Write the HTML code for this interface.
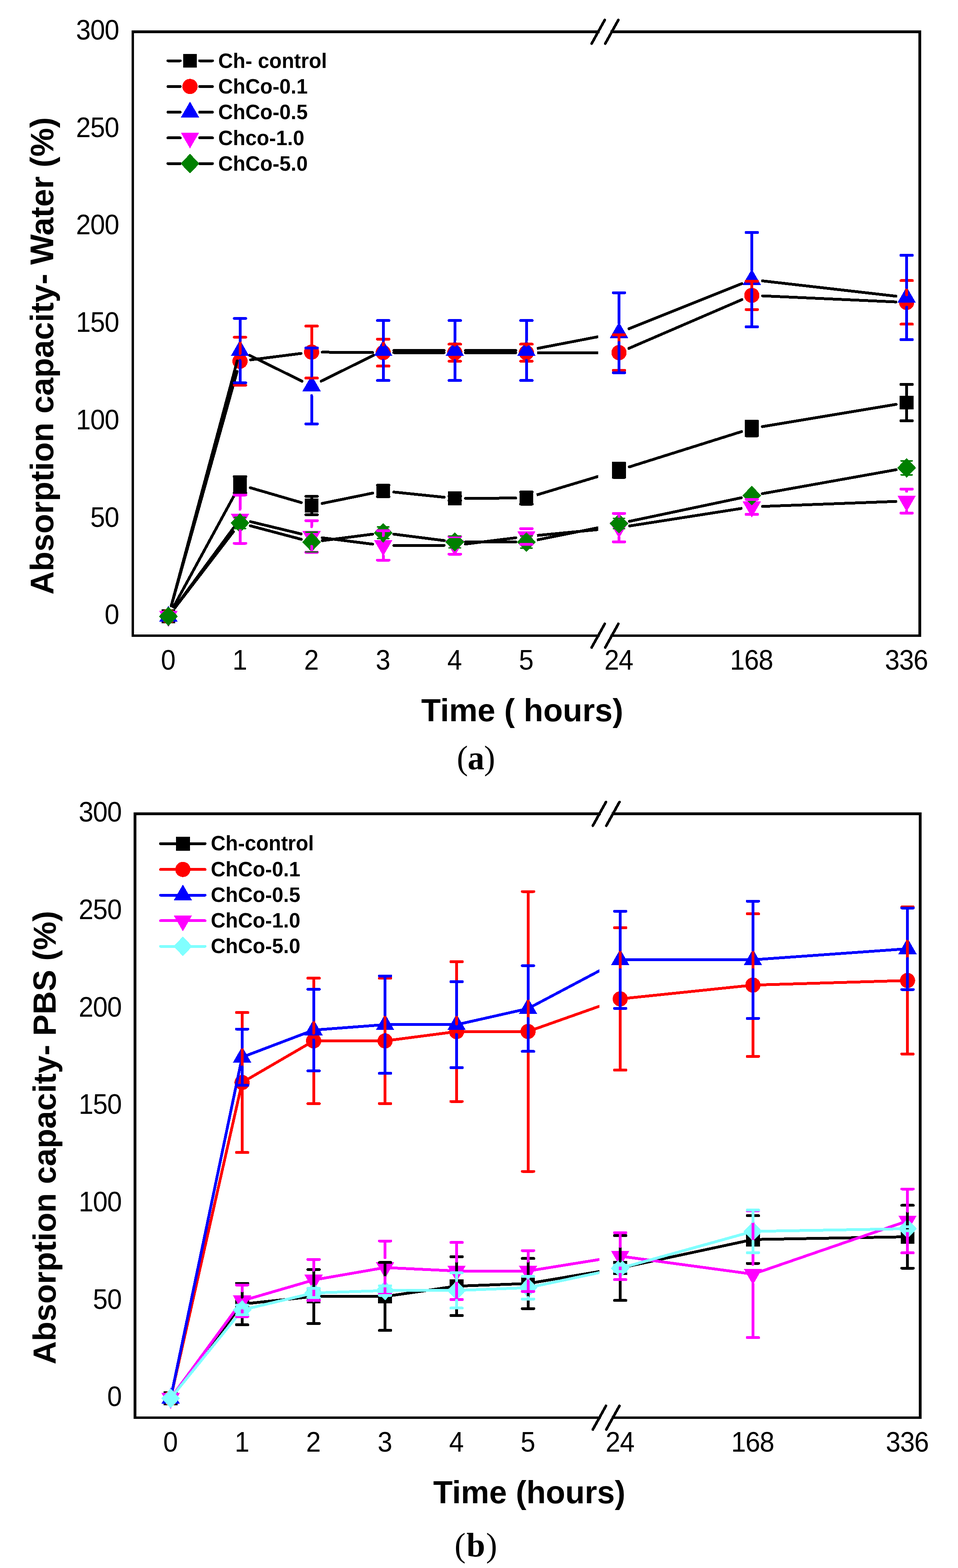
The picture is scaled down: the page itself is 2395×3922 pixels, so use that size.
<!DOCTYPE html>
<html lang="en">
<head>
<meta charset="utf-8">
<title>Absorption capacity in water and PBS over time</title>
<style>
html, body { margin: 0; padding: 0; background: #ffffff; }
body { width: 2395px; height: 3922px; overflow: hidden; }
svg { display: block; }
text { fill: #000000; }
</style>
</head>
<body>
<svg width="2395" height="3922" viewBox="0 0 2395 3922" shape-rendering="crispEdges">
<rect width="2395" height="3922" fill="#ffffff"/>
<path d="M332 79.5H1495.5 M1529.5 79.5H2299.5 M332 1590H1495.5 M1529.5 1590H2299.5 M332 79.5V1590 M2299.5 79.5V1590" stroke="#000" stroke-width="6.6" fill="none" stroke-linecap="square"/>
<path d="M1479.1 109.1L1511.9 49.9M1513.1 109.1L1545.9 49.9M1479.1 1619.6L1511.9 1560.4M1513.1 1619.6L1545.9 1560.4" stroke="#000" stroke-width="6.6" stroke-linecap="round" fill="none"/>
<clipPath id="paL"><rect x="0" y="0" width="1495.5" height="3922"/></clipPath>
<clipPath id="paR"><rect x="1529.5" y="0" width="865.5" height="3922"/></clipPath>
<path d="M433.81 1518.06L587.19 1236.04M625.73 1219.99L753.27 1257.11M805.26 1259.23L931.74 1233.37M984.66 1230.76L1110.34 1243.74M1163.8 1246.38L1289.2 1245.82M1573.06 1167.95L1853.94 1079.55M1905.94 1067.1L2240.16 1011.4" stroke="#000000" stroke-width="7" stroke-linecap="round" stroke-linejoin="round" fill="none"/>
<path d="M1341.66 1237.97L1521.84 1183.73" stroke="#000000" stroke-width="7" stroke-linecap="butt" fill="none" clip-path="url(#paL)"/>
<rect x="403.7" y="1524.3" width="34.6" height="34.6" fill="#000000"/>
<rect x="582.7" y="1195.2" width="34.6" height="34.6" fill="#000000"/>
<rect x="761.7" y="1247.3" width="34.6" height="34.6" fill="#000000"/>
<rect x="940.7" y="1210.7" width="34.6" height="34.6" fill="#000000"/>
<rect x="1119.7" y="1229.2" width="34.6" height="34.6" fill="#000000"/>
<rect x="1298.7" y="1228.4" width="34.6" height="34.6" fill="#000000"/>
<rect x="1530.2" y="1158.7" width="34.6" height="34.6" fill="#000000"/>
<rect x="1862.2" y="1054.2" width="34.6" height="34.6" fill="#000000"/>
<rect x="2249.3" y="989.7" width="34.6" height="34.6" fill="#000000"/>
<path d="M428.24 1515.8L592.76 929.3M626.59 900.11L752.41 884.09M805.8 880.89L931.2 881.81M984.8 882.03L1110.2 882.17M1163.8 882.2L1289.2 882.2M1572.11 871.39L1854.89 749.41M1906.27 740.02L2239.83 755.18" stroke="#000000" stroke-width="7" stroke-linecap="round" stroke-linejoin="round" fill="none"/>
<path d="M1342.8 882.18L1520.7 882.02" stroke="#000000" stroke-width="7" stroke-linecap="butt" fill="none" clip-path="url(#paL)"/>
<circle cx="421" cy="1541.6" r="19" fill="#ff0000"/>
<circle cx="600" cy="903.5" r="19" fill="#ff0000"/>
<circle cx="779" cy="880.7" r="19" fill="#ff0000"/>
<circle cx="958" cy="882" r="19" fill="#ff0000"/>
<circle cx="1137" cy="882.2" r="19" fill="#ff0000"/>
<circle cx="1316" cy="882.2" r="19" fill="#ff0000"/>
<circle cx="1547.5" cy="882" r="19" fill="#ff0000"/>
<circle cx="1879.5" cy="738.8" r="19" fill="#ff0000"/>
<circle cx="2266.6" cy="756.4" r="19" fill="#ff0000"/>
<path d="M427.97 1515.72L593.03 902.88M624.04 888.85L754.96 953.35M803.03 953.33L933.97 888.67M984.8 876.8L1110.2 876.8M1163.8 876.8L1289.2 876.8M1572.39 822.25L1854.61 709.45M1906.13 702.55L2239.97 740.85" stroke="#000000" stroke-width="7" stroke-linecap="round" stroke-linejoin="round" fill="none"/>
<path d="M1342.32 871.73L1521.18 837.27" stroke="#000000" stroke-width="7" stroke-linecap="butt" fill="none" clip-path="url(#paL)"/>
<polygon points="421,1515 444,1555 398,1555" fill="#0000ff"/>
<polygon points="600,850.4 623,890.4 577,890.4" fill="#0000ff"/>
<polygon points="779,938.6 802,978.6 756,978.6" fill="#0000ff"/>
<polygon points="958,850.2 981,890.2 935,890.2" fill="#0000ff"/>
<polygon points="1137,850.2 1160,890.2 1114,890.2" fill="#0000ff"/>
<polygon points="1316,850.2 1339,890.2 1293,890.2" fill="#0000ff"/>
<polygon points="1547.5,805.6 1570.5,845.6 1524.5,845.6" fill="#0000ff"/>
<polygon points="1879.5,672.9 1902.5,712.9 1856.5,712.9" fill="#0000ff"/>
<polygon points="2266.6,717.3 2289.6,757.3 2243.6,757.3" fill="#0000ff"/>
<path d="M436.89 1520.02L584.11 1320.08M626.05 1304.8L752.95 1335.5M805.59 1345.16L931.41 1361.04M984.8 1364.36L1110.2 1364.14M1163.6 1360.8L1289.4 1345.2M1573.98 1315.55L1853.02 1271.85M1906.28 1266.7L2239.82 1254.2" stroke="#000000" stroke-width="7" stroke-linecap="round" stroke-linejoin="round" fill="none"/>
<path d="M1342.68 1339.34L1520.82 1322.26" stroke="#000000" stroke-width="7" stroke-linecap="butt" fill="none" clip-path="url(#paL)"/>
<polygon points="421,1568.2 444,1528.2 398,1528.2" fill="#ff00ff"/>
<polygon points="600,1325.1 623,1285.1 577,1285.1" fill="#ff00ff"/>
<polygon points="779,1368.4 802,1328.4 756,1328.4" fill="#ff00ff"/>
<polygon points="958,1391 981,1351 935,1351" fill="#ff00ff"/>
<polygon points="1137,1390.7 1160,1350.7 1114,1350.7" fill="#ff00ff"/>
<polygon points="1316,1368.5 1339,1328.5 1293,1328.5" fill="#ff00ff"/>
<polygon points="1547.5,1346.3 1570.5,1306.3 1524.5,1306.3" fill="#ff00ff"/>
<polygon points="1879.5,1294.3 1902.5,1254.3 1856.5,1254.3" fill="#ff00ff"/>
<polygon points="2266.6,1279.8 2289.6,1239.8 2243.6,1239.8" fill="#ff00ff"/>
<path d="M437.31 1520.34L583.69 1329.56M625.9 1315.17L753.1 1348.93M805.58 1352.37L931.42 1336.13M984.59 1336.09L1110.41 1352.11M1163.8 1355.54L1289.2 1355.76M1573.72 1303.97L1853.28 1245.03M1905.88 1234.78L2240.22 1174.92" stroke="#000000" stroke-width="7" stroke-linecap="round" stroke-linejoin="round" fill="none"/>
<path d="M1342.28 1350.54L1521.22 1314.76" stroke="#000000" stroke-width="7" stroke-linecap="butt" fill="none" clip-path="url(#paL)"/>
<polygon points="421,1517.1 444.5,1541.6 421,1566.1 397.5,1541.6" fill="#008000"/>
<polygon points="600,1283.8 623.5,1308.3 600,1332.8 576.5,1308.3" fill="#008000"/>
<polygon points="779,1331.3 802.5,1355.8 779,1380.3 755.5,1355.8" fill="#008000"/>
<polygon points="958,1308.2 981.5,1332.7 958,1357.2 934.5,1332.7" fill="#008000"/>
<polygon points="1137,1331 1160.5,1355.5 1137,1380 1113.5,1355.5" fill="#008000"/>
<polygon points="1316,1331.3 1339.5,1355.8 1316,1380.3 1292.5,1355.8" fill="#008000"/>
<polygon points="1547.5,1285 1571,1309.5 1547.5,1334 1524,1309.5" fill="#008000"/>
<polygon points="1879.5,1215 1903,1239.5 1879.5,1264 1856,1239.5" fill="#008000"/>
<polygon points="2266.6,1145.7 2290.1,1170.2 2266.6,1194.7 2243.1,1170.2" fill="#008000"/>

<path d="M600 1192V1195.2M600 1229.8V1233M585.7 1192H614.3M585.7 1233H614.3" stroke="#000000" stroke-width="7" stroke-linecap="round" fill="none"/>
<path d="M779 1241.6V1247.3M779 1281.9V1287.6M764.7 1241.6H793.3M764.7 1287.6H793.3" stroke="#000000" stroke-width="7" stroke-linecap="round" fill="none"/>
<path d="M943.7 1213.4H972.3M943.7 1242.6H972.3" stroke="#000000" stroke-width="7" stroke-linecap="round" fill="none"/>
<path d="M1122.7 1240.9H1151.3M1122.7 1252.1H1151.3" stroke="#000000" stroke-width="7" stroke-linecap="round" fill="none"/>
<path d="M1301.7 1230.4H1330.3M1301.7 1261H1330.3" stroke="#000000" stroke-width="7" stroke-linecap="round" fill="none"/>
<path d="M1547.5 1158V1158.7M1547.5 1193.3V1194M1533.2 1158H1561.8M1533.2 1194H1561.8" stroke="#000000" stroke-width="7" stroke-linecap="round" fill="none"/>
<path d="M1879.5 1053V1054.2M1879.5 1088.8V1090M1865.2 1053H1893.8M1865.2 1090H1893.8" stroke="#000000" stroke-width="7" stroke-linecap="round" fill="none"/>
<path d="M2266.6 961.6V989.7M2266.6 1024.3V1052.4M2252.3 961.6H2280.9M2252.3 1052.4H2280.9" stroke="#000000" stroke-width="7" stroke-linecap="round" fill="none"/>

<path d="M600 843.5V884.5M600 922.5V963.5M585.7 843.5H614.3M585.7 963.5H614.3" stroke="#ff0000" stroke-width="7" stroke-linecap="round" fill="none"/>
<path d="M779 815.7V861.7M779 899.7V945.7M764.7 815.7H793.3M764.7 945.7H793.3" stroke="#ff0000" stroke-width="7" stroke-linecap="round" fill="none"/>
<path d="M958 848.3V863M958 901V915.7M943.7 848.3H972.3M943.7 915.7H972.3" stroke="#ff0000" stroke-width="7" stroke-linecap="round" fill="none"/>
<path d="M1137 860.9V863.2M1137 901.2V903.5M1122.7 860.9H1151.3M1122.7 903.5H1151.3" stroke="#ff0000" stroke-width="7" stroke-linecap="round" fill="none"/>
<path d="M1316 860.9V863.2M1316 901.2V903.5M1301.7 860.9H1330.3M1301.7 903.5H1330.3" stroke="#ff0000" stroke-width="7" stroke-linecap="round" fill="none"/>
<path d="M1547.5 837.7V863M1547.5 901V926.3M1533.2 837.7H1561.8M1533.2 926.3H1561.8" stroke="#ff0000" stroke-width="7" stroke-linecap="round" fill="none"/>
<path d="M1879.5 703.4V719.8M1879.5 757.8V774.2M1865.2 703.4H1893.8M1865.2 774.2H1893.8" stroke="#ff0000" stroke-width="7" stroke-linecap="round" fill="none"/>
<path d="M2266.6 701.9V737.4M2266.6 775.4V810.9M2252.3 701.9H2280.9M2252.3 810.9H2280.9" stroke="#ff0000" stroke-width="7" stroke-linecap="round" fill="none"/>

<path d="M600 796.5V852.5M600 901.5V957.5M585.7 796.5H614.3M585.7 957.5H614.3" stroke="#0000ff" stroke-width="7" stroke-linecap="round" fill="none"/>
<path d="M779 870.2V940.7M779 989.7V1060.2M764.7 870.2H793.3M764.7 1060.2H793.3" stroke="#0000ff" stroke-width="7" stroke-linecap="round" fill="none"/>
<path d="M958 801.8V852.3M958 901.3V951.8M943.7 801.8H972.3M943.7 951.8H972.3" stroke="#0000ff" stroke-width="7" stroke-linecap="round" fill="none"/>
<path d="M1137 801.8V852.3M1137 901.3V951.8M1122.7 801.8H1151.3M1122.7 951.8H1151.3" stroke="#0000ff" stroke-width="7" stroke-linecap="round" fill="none"/>
<path d="M1316 801.8V852.3M1316 901.3V951.8M1301.7 801.8H1330.3M1301.7 951.8H1330.3" stroke="#0000ff" stroke-width="7" stroke-linecap="round" fill="none"/>
<path d="M1547.5 732.2V807.7M1547.5 856.7V932.2M1533.2 732.2H1561.8M1533.2 932.2H1561.8" stroke="#0000ff" stroke-width="7" stroke-linecap="round" fill="none"/>
<path d="M1879.5 581.5V675M1879.5 724V817.5M1865.2 581.5H1893.8M1865.2 817.5H1893.8" stroke="#0000ff" stroke-width="7" stroke-linecap="round" fill="none"/>
<path d="M2266.6 638.4V719.4M2266.6 768.4V849.4M2252.3 638.4H2280.9M2252.3 849.4H2280.9" stroke="#0000ff" stroke-width="7" stroke-linecap="round" fill="none"/>

<path d="M600 1238V1274M600 1323V1359M585.7 1238H614.3M585.7 1359H614.3" stroke="#ff00ff" stroke-width="7" stroke-linecap="round" fill="none"/>
<path d="M779 1302.3V1317.3M779 1366.3V1381.3M764.7 1302.3H793.3M764.7 1381.3H793.3" stroke="#ff00ff" stroke-width="7" stroke-linecap="round" fill="none"/>
<path d="M958 1327.7V1339.9M958 1388.9V1401.1M943.7 1327.7H972.3M943.7 1401.1H972.3" stroke="#ff00ff" stroke-width="7" stroke-linecap="round" fill="none"/>
<path d="M1122.7 1342.1H1151.3M1122.7 1386.1H1151.3" stroke="#ff00ff" stroke-width="7" stroke-linecap="round" fill="none"/>
<path d="M1301.7 1322.2H1330.3M1301.7 1361.6H1330.3" stroke="#ff00ff" stroke-width="7" stroke-linecap="round" fill="none"/>
<path d="M1547.5 1284.1V1295.2M1547.5 1344.2V1355.3M1533.2 1284.1H1561.8M1533.2 1355.3H1561.8" stroke="#ff00ff" stroke-width="7" stroke-linecap="round" fill="none"/>
<path d="M1865.2 1249H1893.8M1865.2 1286.4H1893.8" stroke="#ff00ff" stroke-width="7" stroke-linecap="round" fill="none"/>
<path d="M2266.6 1223.2V1228.7M2266.6 1277.7V1283.2M2252.3 1223.2H2280.9M2252.3 1283.2H2280.9" stroke="#ff00ff" stroke-width="7" stroke-linecap="round" fill="none"/>

<path d="M586 1294.3H614M586 1322.3H614" stroke="#008000" stroke-width="3.8" stroke-linecap="round" fill="none"/>
<path d="M779 1331.1V1331.3M779 1380.3V1380.5M765 1331.1H793M765 1380.5H793" stroke="#008000" stroke-width="3.8" stroke-linecap="round" fill="none"/>
<path d="M944 1318.2H972M944 1347.2H972" stroke="#008000" stroke-width="3.8" stroke-linecap="round" fill="none"/>
<path d="M1123 1340.5H1151M1123 1370.5H1151" stroke="#008000" stroke-width="3.8" stroke-linecap="round" fill="none"/>
<path d="M1302 1340.5H1330M1302 1371.1H1330" stroke="#008000" stroke-width="3.8" stroke-linecap="round" fill="none"/>
<path d="M1533.5 1296.5H1561.5M1533.5 1322.5H1561.5" stroke="#008000" stroke-width="3.8" stroke-linecap="round" fill="none"/>
<path d="M1865.5 1236.5H1893.5M1865.5 1242.5H1893.5" stroke="#008000" stroke-width="3.8" stroke-linecap="round" fill="none"/>
<path d="M2252.6 1152.8H2280.6M2252.6 1187.6H2280.6" stroke="#008000" stroke-width="3.8" stroke-linecap="round" fill="none"/>
<path d="M419.9 152H450.3 M499.2 152H531.1" stroke="#000000" stroke-width="7" stroke-linecap="round" fill="none"/>
<rect x="457.7" y="134.7" width="34.6" height="34.6" fill="#000000"/>
<text x="545.5" y="169.8" font-family="'Liberation Sans', Arial, Helvetica, sans-serif" font-weight="bold" font-size="51">Ch- control</text>
<path d="M419.9 216.3H450.3 M499.2 216.3H531.1" stroke="#000000" stroke-width="7" stroke-linecap="round" fill="none"/>
<circle cx="475" cy="216.3" r="19" fill="#ff0000"/>
<text x="545.5" y="234.1" font-family="'Liberation Sans', Arial, Helvetica, sans-serif" font-weight="bold" font-size="51">ChCo-0.1</text>
<path d="M419.9 280.6H450.3 M499.2 280.6H531.1" stroke="#000000" stroke-width="7" stroke-linecap="round" fill="none"/>
<polygon points="475,254 498,294 452,294" fill="#0000ff"/>
<text x="545.5" y="298.4" font-family="'Liberation Sans', Arial, Helvetica, sans-serif" font-weight="bold" font-size="51">ChCo-0.5</text>
<path d="M419.9 344.9H450.3 M499.2 344.9H531.1" stroke="#000000" stroke-width="7" stroke-linecap="round" fill="none"/>
<polygon points="475,371.5 498,331.5 452,331.5" fill="#ff00ff"/>
<text x="545.5" y="362.7" font-family="'Liberation Sans', Arial, Helvetica, sans-serif" font-weight="bold" font-size="51">Chco-1.0</text>
<path d="M419.9 409.2H450.3 M499.2 409.2H531.1" stroke="#000000" stroke-width="7" stroke-linecap="round" fill="none"/>
<polygon points="475,384.7 498.5,409.2 475,433.7 451.5,409.2" fill="#008000"/>
<text x="545.5" y="427" font-family="'Liberation Sans', Arial, Helvetica, sans-serif" font-weight="bold" font-size="51">ChCo-5.0</text>
<text transform="translate(297.2 1561.2) scale(0.94 1)" text-anchor="end" font-family="'Liberation Sans', Arial, Helvetica, sans-serif" font-size="70.5" letter-spacing="-1.2">0</text>
<text transform="translate(297.2 1317.5) scale(0.94 1)" text-anchor="end" font-family="'Liberation Sans', Arial, Helvetica, sans-serif" font-size="70.5" letter-spacing="-1.2">50</text>
<text transform="translate(297.2 1073.8) scale(0.94 1)" text-anchor="end" font-family="'Liberation Sans', Arial, Helvetica, sans-serif" font-size="70.5" letter-spacing="-1.2">100</text>
<text transform="translate(297.2 830.1) scale(0.94 1)" text-anchor="end" font-family="'Liberation Sans', Arial, Helvetica, sans-serif" font-size="70.5" letter-spacing="-1.2">150</text>
<text transform="translate(297.2 586.4) scale(0.94 1)" text-anchor="end" font-family="'Liberation Sans', Arial, Helvetica, sans-serif" font-size="70.5" letter-spacing="-1.2">200</text>
<text transform="translate(297.2 342.7) scale(0.94 1)" text-anchor="end" font-family="'Liberation Sans', Arial, Helvetica, sans-serif" font-size="70.5" letter-spacing="-1.2">250</text>
<text transform="translate(297.2 99) scale(0.94 1)" text-anchor="end" font-family="'Liberation Sans', Arial, Helvetica, sans-serif" font-size="70.5" letter-spacing="-1.2">300</text>
<text transform="translate(420.2 1674.5) scale(0.94 1)" text-anchor="middle" font-family="'Liberation Sans', Arial, Helvetica, sans-serif" font-size="70.5" letter-spacing="-1.2">0</text>
<text transform="translate(599.2 1674.5) scale(0.94 1)" text-anchor="middle" font-family="'Liberation Sans', Arial, Helvetica, sans-serif" font-size="70.5" letter-spacing="-1.2">1</text>
<text transform="translate(778.2 1674.5) scale(0.94 1)" text-anchor="middle" font-family="'Liberation Sans', Arial, Helvetica, sans-serif" font-size="70.5" letter-spacing="-1.2">2</text>
<text transform="translate(957.2 1674.5) scale(0.94 1)" text-anchor="middle" font-family="'Liberation Sans', Arial, Helvetica, sans-serif" font-size="70.5" letter-spacing="-1.2">3</text>
<text transform="translate(1136.2 1674.5) scale(0.94 1)" text-anchor="middle" font-family="'Liberation Sans', Arial, Helvetica, sans-serif" font-size="70.5" letter-spacing="-1.2">4</text>
<text transform="translate(1315.2 1674.5) scale(0.94 1)" text-anchor="middle" font-family="'Liberation Sans', Arial, Helvetica, sans-serif" font-size="70.5" letter-spacing="-1.2">5</text>
<text transform="translate(1546.7 1674.5) scale(0.94 1)" text-anchor="middle" font-family="'Liberation Sans', Arial, Helvetica, sans-serif" font-size="70.5" letter-spacing="-1.2">24</text>
<text transform="translate(1878.7 1674.5) scale(0.94 1)" text-anchor="middle" font-family="'Liberation Sans', Arial, Helvetica, sans-serif" font-size="70.5" letter-spacing="-1.2">168</text>
<text transform="translate(2265.8 1674.5) scale(0.94 1)" text-anchor="middle" font-family="'Liberation Sans', Arial, Helvetica, sans-serif" font-size="70.5" letter-spacing="-1.2">336</text>
<text transform="translate(133.1 1487.2) rotate(-90)" font-family="'Liberation Sans', Arial, Helvetica, sans-serif" font-weight="bold" font-size="80.7">Absorption capacity- Water (%)</text>
<text x="1053" y="1803.8" font-family="'Liberation Sans', Arial, Helvetica, sans-serif" font-weight="bold" font-size="80">Time ( hours)</text>
<text x="1142" y="1923.9" font-family="'Liberation Serif', 'Times New Roman', serif" font-size="84" letter-spacing="-1">(<tspan font-weight="bold">a</tspan>)</text>
<path d="M337.5 2035.7H1498.5 M1532.2 2035.7H2300.7 M337.5 3546H1498.5 M1532.2 3546H2300.7 M337.5 2035.7V3546 M2300.7 2035.7V3546" stroke="#000" stroke-width="6.6" fill="none" stroke-linecap="square"/>
<path d="M1482.1 2065.3L1514.9 2006.1M1515.8 2065.3L1548.6 2006.1M1482.1 3575.6L1514.9 3516.4M1515.8 3575.6L1548.6 3516.4" stroke="#000" stroke-width="6.6" stroke-linecap="round" fill="none"/>
<clipPath id="pbL"><rect x="0" y="0" width="1498.5" height="3922"/></clipPath>
<clipPath id="pbR"><rect x="1532.2" y="0" width="862.8" height="3922"/></clipPath>
<path d="M426.6 3497.6L605.3 3261.9M605.3 3261.9L784 3242.9M784 3242.9L962.7 3242.8M962.7 3242.8L1141.4 3217M1141.4 3217L1320.1 3210.5M1550.5 3171.6L1882.3 3100.4M1882.3 3100.4L2268.8 3093.5" stroke="#000000" stroke-width="7" stroke-linecap="round" stroke-linejoin="round" fill="none"/>
<path d="M1320.1 3210.5L1550.5 3171.6" stroke="#000000" stroke-width="7" stroke-linecap="butt" fill="none" clip-path="url(#pbL)"/>
<rect x="409.3" y="3480.3" width="34.6" height="34.6" fill="#000000"/>
<rect x="588" y="3244.6" width="34.6" height="34.6" fill="#000000"/>
<rect x="766.7" y="3225.6" width="34.6" height="34.6" fill="#000000"/>
<rect x="945.4" y="3225.5" width="34.6" height="34.6" fill="#000000"/>
<rect x="1124.1" y="3199.7" width="34.6" height="34.6" fill="#000000"/>
<rect x="1302.8" y="3193.2" width="34.6" height="34.6" fill="#000000"/>
<rect x="1533.2" y="3154.3" width="34.6" height="34.6" fill="#000000"/>
<rect x="1865" y="3083.1" width="34.6" height="34.6" fill="#000000"/>
<rect x="2251.5" y="3076.2" width="34.6" height="34.6" fill="#000000"/>
<path d="M426.6 3497.6L605.3 2707.6M605.3 2707.6L784 2603.6M784 2603.6L962.7 2603.6M962.7 2603.6L1141.4 2580.3M1141.4 2580.3L1320.1 2580M1550.5 2498.5L1882.3 2464M1882.3 2464L2268.8 2452.5" stroke="#ff0000" stroke-width="7" stroke-linecap="round" stroke-linejoin="round" fill="none"/>
<path d="M1320.1 2580L1550.5 2498.5" stroke="#ff0000" stroke-width="7" stroke-linecap="butt" fill="none" clip-path="url(#pbL)"/>
<circle cx="426.6" cy="3497.6" r="19" fill="#ff0000"/>
<circle cx="605.3" cy="2707.6" r="19" fill="#ff0000"/>
<circle cx="784" cy="2603.6" r="19" fill="#ff0000"/>
<circle cx="962.7" cy="2603.6" r="19" fill="#ff0000"/>
<circle cx="1141.4" cy="2580.3" r="19" fill="#ff0000"/>
<circle cx="1320.1" cy="2580" r="19" fill="#ff0000"/>
<circle cx="1550.5" cy="2498.5" r="19" fill="#ff0000"/>
<circle cx="1882.3" cy="2464" r="19" fill="#ff0000"/>
<circle cx="2268.8" cy="2452.5" r="19" fill="#ff0000"/>
<path d="M426.6 3497.6L605.3 2644.3M605.3 2644.3L784 2576.5M784 2576.5L962.7 2562.9M962.7 2562.9L1141.4 2563M1141.4 2563L1320.1 2522.7M1550.5 2400.7L1882.3 2400.7M1882.3 2400.7L2268.8 2373.1" stroke="#0000ff" stroke-width="7" stroke-linecap="round" stroke-linejoin="round" fill="none"/>
<path d="M1320.1 2522.7L1550.5 2400.7" stroke="#0000ff" stroke-width="7" stroke-linecap="butt" fill="none" clip-path="url(#pbL)"/>
<polygon points="426.6,3471 449.6,3511 403.6,3511" fill="#0000ff"/>
<polygon points="605.3,2617.7 628.3,2657.7 582.3,2657.7" fill="#0000ff"/>
<polygon points="784,2549.9 807,2589.9 761,2589.9" fill="#0000ff"/>
<polygon points="962.7,2536.3 985.7,2576.3 939.7,2576.3" fill="#0000ff"/>
<polygon points="1141.4,2536.4 1164.4,2576.4 1118.4,2576.4" fill="#0000ff"/>
<polygon points="1320.1,2496.1 1343.1,2536.1 1297.1,2536.1" fill="#0000ff"/>
<polygon points="1550.5,2374.1 1573.5,2414.1 1527.5,2414.1" fill="#0000ff"/>
<polygon points="1882.3,2374.1 1905.3,2414.1 1859.3,2414.1" fill="#0000ff"/>
<polygon points="2268.8,2346.5 2291.8,2386.5 2245.8,2386.5" fill="#0000ff"/>
<path d="M426.6 3497.6L605.3 3253.6M605.3 3253.6L784 3201.6M784 3201.6L962.7 3170.5M962.7 3170.5L1141.4 3179.1M1141.4 3179.1L1320.1 3179.2M1550.5 3142L1882.3 3187M1882.3 3187L2268.8 3053.9" stroke="#ff00ff" stroke-width="7" stroke-linecap="round" stroke-linejoin="round" fill="none"/>
<path d="M1320.1 3179.2L1550.5 3142" stroke="#ff00ff" stroke-width="7" stroke-linecap="butt" fill="none" clip-path="url(#pbL)"/>
<polygon points="426.6,3524.2 449.6,3484.2 403.6,3484.2" fill="#ff00ff"/>
<polygon points="605.3,3280.2 628.3,3240.2 582.3,3240.2" fill="#ff00ff"/>
<polygon points="784,3228.2 807,3188.2 761,3188.2" fill="#ff00ff"/>
<polygon points="962.7,3197.1 985.7,3157.1 939.7,3157.1" fill="#ff00ff"/>
<polygon points="1141.4,3205.7 1164.4,3165.7 1118.4,3165.7" fill="#ff00ff"/>
<polygon points="1320.1,3205.8 1343.1,3165.8 1297.1,3165.8" fill="#ff00ff"/>
<polygon points="1550.5,3168.6 1573.5,3128.6 1527.5,3128.6" fill="#ff00ff"/>
<polygon points="1882.3,3213.6 1905.3,3173.6 1859.3,3173.6" fill="#ff00ff"/>
<polygon points="2268.8,3080.5 2291.8,3040.5 2245.8,3040.5" fill="#ff00ff"/>
<path d="M426.6 3497.6L605.3 3276.6M605.3 3276.6L784 3234M784 3234L962.7 3228M962.7 3228L1141.4 3227.9M1141.4 3227.9L1320.1 3220.9M1550.5 3172.2L1882.3 3080M1882.3 3080L2268.8 3073.4" stroke="#80ffff" stroke-width="7" stroke-linecap="round" stroke-linejoin="round" fill="none"/>
<path d="M1320.1 3220.9L1550.5 3172.2" stroke="#80ffff" stroke-width="7" stroke-linecap="butt" fill="none" clip-path="url(#pbL)"/>
<polygon points="426.6,3473.1 450.1,3497.6 426.6,3522.1 403.1,3497.6" fill="#80ffff"/>
<polygon points="605.3,3252.1 628.8,3276.6 605.3,3301.1 581.8,3276.6" fill="#80ffff"/>
<polygon points="784,3209.5 807.5,3234 784,3258.5 760.5,3234" fill="#80ffff"/>
<polygon points="962.7,3203.5 986.2,3228 962.7,3252.5 939.2,3228" fill="#80ffff"/>
<polygon points="1141.4,3203.4 1164.9,3227.9 1141.4,3252.4 1117.9,3227.9" fill="#80ffff"/>
<polygon points="1320.1,3196.4 1343.6,3220.9 1320.1,3245.4 1296.6,3220.9" fill="#80ffff"/>
<polygon points="1550.5,3147.7 1574,3172.2 1550.5,3196.7 1527,3172.2" fill="#80ffff"/>
<polygon points="1882.3,3055.5 1905.8,3080 1882.3,3104.5 1858.8,3080" fill="#80ffff"/>
<polygon points="2268.8,3048.9 2292.3,3073.4 2268.8,3097.9 2245.3,3073.4" fill="#80ffff"/>

<path d="M605.3 3210.1V3244.6M605.3 3279.2V3313.7M591 3210.1H619.6M591 3313.7H619.6" stroke="#000000" stroke-width="7" stroke-linecap="round" fill="none"/>
<path d="M784 3175.4V3225.6M784 3260.2V3310.4M769.7 3175.4H798.3M769.7 3310.4H798.3" stroke="#000000" stroke-width="7" stroke-linecap="round" fill="none"/>
<path d="M962.7 3157.9V3225.5M962.7 3260.1V3327.7M948.4 3157.9H977M948.4 3327.7H977" stroke="#000000" stroke-width="7" stroke-linecap="round" fill="none"/>
<path d="M1141.4 3143.5V3199.7M1141.4 3234.3V3290.5M1127.1 3143.5H1155.7M1127.1 3290.5H1155.7" stroke="#000000" stroke-width="7" stroke-linecap="round" fill="none"/>
<path d="M1320.1 3147.8V3193.2M1320.1 3227.8V3273.2M1305.8 3147.8H1334.4M1305.8 3273.2H1334.4" stroke="#000000" stroke-width="7" stroke-linecap="round" fill="none"/>
<path d="M1550.5 3090.4V3154.3M1550.5 3188.9V3252.8M1536.2 3090.4H1564.8M1536.2 3252.8H1564.8" stroke="#000000" stroke-width="7" stroke-linecap="round" fill="none"/>
<path d="M1882.3 3040.7V3083.1M1882.3 3117.7V3160.1M1868 3040.7H1896.6M1868 3160.1H1896.6" stroke="#000000" stroke-width="7" stroke-linecap="round" fill="none"/>
<path d="M2268.8 3014.9V3076.2M2268.8 3110.8V3172.1M2254.5 3014.9H2283.1M2254.5 3172.1H2283.1" stroke="#000000" stroke-width="7" stroke-linecap="round" fill="none"/>

<path d="M605.3 2532.6V2688.6M605.3 2726.6V2882.6M591 2532.6H619.6M591 2882.6H619.6" stroke="#ff0000" stroke-width="7" stroke-linecap="round" fill="none"/>
<path d="M784 2446.8V2584.6M784 2622.6V2760.4M769.7 2446.8H798.3M769.7 2760.4H798.3" stroke="#ff0000" stroke-width="7" stroke-linecap="round" fill="none"/>
<path d="M962.7 2446.8V2584.6M962.7 2622.6V2760.4M948.4 2446.8H977M948.4 2760.4H977" stroke="#ff0000" stroke-width="7" stroke-linecap="round" fill="none"/>
<path d="M1141.4 2405.6V2561.3M1141.4 2599.3V2755M1127.1 2405.6H1155.7M1127.1 2755H1155.7" stroke="#ff0000" stroke-width="7" stroke-linecap="round" fill="none"/>
<path d="M1320.1 2230V2561M1320.1 2599V2930M1305.8 2230H1334.4M1305.8 2930H1334.4" stroke="#ff0000" stroke-width="7" stroke-linecap="round" fill="none"/>
<path d="M1550.5 2320.5V2479.5M1550.5 2517.5V2676.5M1536.2 2320.5H1564.8M1536.2 2676.5H1564.8" stroke="#ff0000" stroke-width="7" stroke-linecap="round" fill="none"/>
<path d="M1882.3 2285.7V2445M1882.3 2483V2642.3M1868 2285.7H1896.6M1868 2642.3H1896.6" stroke="#ff0000" stroke-width="7" stroke-linecap="round" fill="none"/>
<path d="M2268.8 2268.7V2433.5M2268.8 2471.5V2636.3M2254.5 2268.7H2283.1M2254.5 2636.3H2283.1" stroke="#ff0000" stroke-width="7" stroke-linecap="round" fill="none"/>

<path d="M605.3 2574V2619.8M605.3 2668.8V2714.6M591 2574H619.6M591 2714.6H619.6" stroke="#0000ff" stroke-width="7" stroke-linecap="round" fill="none"/>
<path d="M784 2474.5V2552M784 2601V2678.5M769.7 2474.5H798.3M769.7 2678.5H798.3" stroke="#0000ff" stroke-width="7" stroke-linecap="round" fill="none"/>
<path d="M962.7 2441.2V2538.4M962.7 2587.4V2684.6M948.4 2441.2H977M948.4 2684.6H977" stroke="#0000ff" stroke-width="7" stroke-linecap="round" fill="none"/>
<path d="M1141.4 2455.5V2538.5M1141.4 2587.5V2670.5M1127.1 2455.5H1155.7M1127.1 2670.5H1155.7" stroke="#0000ff" stroke-width="7" stroke-linecap="round" fill="none"/>
<path d="M1320.1 2415.5V2498.2M1320.1 2547.2V2629.9M1305.8 2415.5H1334.4M1305.8 2629.9H1334.4" stroke="#0000ff" stroke-width="7" stroke-linecap="round" fill="none"/>
<path d="M1550.5 2279.2V2376.2M1550.5 2425.2V2522.2M1536.2 2279.2H1564.8M1536.2 2522.2H1564.8" stroke="#0000ff" stroke-width="7" stroke-linecap="round" fill="none"/>
<path d="M1882.3 2254.1V2376.2M1882.3 2425.2V2547.3M1868 2254.1H1896.6M1868 2547.3H1896.6" stroke="#0000ff" stroke-width="7" stroke-linecap="round" fill="none"/>
<path d="M2268.8 2271.1V2348.6M2268.8 2397.6V2475.1M2254.5 2271.1H2283.1M2254.5 2475.1H2283.1" stroke="#0000ff" stroke-width="7" stroke-linecap="round" fill="none"/>

<path d="M605.3 3214.1V3229.1M605.3 3278.1V3293.1M591 3214.1H619.6M591 3293.1H619.6" stroke="#ff00ff" stroke-width="7" stroke-linecap="round" fill="none"/>
<path d="M784 3150.3V3177.1M784 3226.1V3252.9M769.7 3150.3H798.3M769.7 3252.9H798.3" stroke="#ff00ff" stroke-width="7" stroke-linecap="round" fill="none"/>
<path d="M962.7 3104V3146M962.7 3195V3237M948.4 3104H977M948.4 3237H977" stroke="#ff00ff" stroke-width="7" stroke-linecap="round" fill="none"/>
<path d="M1141.4 3107.8V3154.6M1141.4 3203.6V3250.4M1127.1 3107.8H1155.7M1127.1 3250.4H1155.7" stroke="#ff00ff" stroke-width="7" stroke-linecap="round" fill="none"/>
<path d="M1320.1 3128.1V3154.7M1320.1 3203.7V3230.3M1305.8 3128.1H1334.4M1305.8 3230.3H1334.4" stroke="#ff00ff" stroke-width="7" stroke-linecap="round" fill="none"/>
<path d="M1550.5 3083.2V3117.5M1550.5 3166.5V3200.8M1536.2 3083.2H1564.8M1536.2 3200.8H1564.8" stroke="#ff00ff" stroke-width="7" stroke-linecap="round" fill="none"/>
<path d="M1882.3 3028.3V3162.5M1882.3 3211.5V3345.7M1868 3028.3H1896.6M1868 3345.7H1896.6" stroke="#ff00ff" stroke-width="7" stroke-linecap="round" fill="none"/>
<path d="M2268.8 2974V3029.4M2268.8 3078.4V3133.8M2254.5 2974H2283.1M2254.5 3133.8H2283.1" stroke="#ff00ff" stroke-width="7" stroke-linecap="round" fill="none"/>

<path d="M591 3264.6H619.6M591 3288.6H619.6" stroke="#80ffff" stroke-width="7" stroke-linecap="round" fill="none"/>
<path d="M769.7 3222.5H798.3M769.7 3245.5H798.3" stroke="#80ffff" stroke-width="7" stroke-linecap="round" fill="none"/>
<path d="M948.4 3216H977M948.4 3240H977" stroke="#80ffff" stroke-width="7" stroke-linecap="round" fill="none"/>
<path d="M1141.4 3183.9V3203.4M1141.4 3252.4V3271.9M1127.1 3183.9H1155.7M1127.1 3271.9H1155.7" stroke="#80ffff" stroke-width="7" stroke-linecap="round" fill="none"/>
<path d="M1320.1 3192.6V3196.4M1320.1 3245.4V3249.2M1305.8 3192.6H1334.4M1305.8 3249.2H1334.4" stroke="#80ffff" stroke-width="7" stroke-linecap="round" fill="none"/>
<path d="M1536.2 3164.2H1564.8M1536.2 3180.2H1564.8" stroke="#80ffff" stroke-width="7" stroke-linecap="round" fill="none"/>
<path d="M1882.3 3026.6V3055.5M1882.3 3104.5V3133.4M1868 3026.6H1896.6M1868 3133.4H1896.6" stroke="#80ffff" stroke-width="7" stroke-linecap="round" fill="none"/>
<path d="M2254.5 3068.4H2283.1M2254.5 3078.4H2283.1" stroke="#80ffff" stroke-width="7" stroke-linecap="round" fill="none"/>
<path d="M401.4 2110.4H512.5" stroke="#000000" stroke-width="7" stroke-linecap="round" fill="none"/>
<rect x="439.9" y="2093.1" width="34.6" height="34.6" fill="#000000"/>
<text x="527" y="2127.4" font-family="'Liberation Sans', Arial, Helvetica, sans-serif" font-weight="bold" font-size="51">Ch-control</text>
<path d="M401.4 2174.7H512.5" stroke="#ff0000" stroke-width="7" stroke-linecap="round" fill="none"/>
<circle cx="457.2" cy="2174.7" r="19" fill="#ff0000"/>
<text x="527" y="2191.7" font-family="'Liberation Sans', Arial, Helvetica, sans-serif" font-weight="bold" font-size="51">ChCo-0.1</text>
<path d="M401.4 2239H512.5" stroke="#0000ff" stroke-width="7" stroke-linecap="round" fill="none"/>
<polygon points="457.2,2212.4 480.2,2252.4 434.2,2252.4" fill="#0000ff"/>
<text x="527" y="2256" font-family="'Liberation Sans', Arial, Helvetica, sans-serif" font-weight="bold" font-size="51">ChCo-0.5</text>
<path d="M401.4 2302.9H512.5" stroke="#ff00ff" stroke-width="7" stroke-linecap="round" fill="none"/>
<polygon points="457.2,2329.5 480.2,2289.5 434.2,2289.5" fill="#ff00ff"/>
<text x="527" y="2319.9" font-family="'Liberation Sans', Arial, Helvetica, sans-serif" font-weight="bold" font-size="51">ChCo-1.0</text>
<path d="M401.4 2367H512.5" stroke="#80ffff" stroke-width="7" stroke-linecap="round" fill="none"/>
<polygon points="457.2,2342.5 480.7,2367 457.2,2391.5 433.7,2367" fill="#80ffff"/>
<text x="527" y="2384" font-family="'Liberation Sans', Arial, Helvetica, sans-serif" font-weight="bold" font-size="51">ChCo-5.0</text>
<text transform="translate(303.8 3517.2) scale(0.94 1)" text-anchor="end" font-family="'Liberation Sans', Arial, Helvetica, sans-serif" font-size="70.5" letter-spacing="-1.2">0</text>
<text transform="translate(303.8 3273.55) scale(0.94 1)" text-anchor="end" font-family="'Liberation Sans', Arial, Helvetica, sans-serif" font-size="70.5" letter-spacing="-1.2">50</text>
<text transform="translate(303.8 3029.9) scale(0.94 1)" text-anchor="end" font-family="'Liberation Sans', Arial, Helvetica, sans-serif" font-size="70.5" letter-spacing="-1.2">100</text>
<text transform="translate(303.8 2786.25) scale(0.94 1)" text-anchor="end" font-family="'Liberation Sans', Arial, Helvetica, sans-serif" font-size="70.5" letter-spacing="-1.2">150</text>
<text transform="translate(303.8 2542.6) scale(0.94 1)" text-anchor="end" font-family="'Liberation Sans', Arial, Helvetica, sans-serif" font-size="70.5" letter-spacing="-1.2">200</text>
<text transform="translate(303.8 2298.95) scale(0.94 1)" text-anchor="end" font-family="'Liberation Sans', Arial, Helvetica, sans-serif" font-size="70.5" letter-spacing="-1.2">250</text>
<text transform="translate(303.8 2055.3) scale(0.94 1)" text-anchor="end" font-family="'Liberation Sans', Arial, Helvetica, sans-serif" font-size="70.5" letter-spacing="-1.2">300</text>
<text transform="translate(425.8 3630.7) scale(0.94 1)" text-anchor="middle" font-family="'Liberation Sans', Arial, Helvetica, sans-serif" font-size="70.5" letter-spacing="-1.2">0</text>
<text transform="translate(604.5 3630.7) scale(0.94 1)" text-anchor="middle" font-family="'Liberation Sans', Arial, Helvetica, sans-serif" font-size="70.5" letter-spacing="-1.2">1</text>
<text transform="translate(783.2 3630.7) scale(0.94 1)" text-anchor="middle" font-family="'Liberation Sans', Arial, Helvetica, sans-serif" font-size="70.5" letter-spacing="-1.2">2</text>
<text transform="translate(961.9 3630.7) scale(0.94 1)" text-anchor="middle" font-family="'Liberation Sans', Arial, Helvetica, sans-serif" font-size="70.5" letter-spacing="-1.2">3</text>
<text transform="translate(1140.6 3630.7) scale(0.94 1)" text-anchor="middle" font-family="'Liberation Sans', Arial, Helvetica, sans-serif" font-size="70.5" letter-spacing="-1.2">4</text>
<text transform="translate(1319.3 3630.7) scale(0.94 1)" text-anchor="middle" font-family="'Liberation Sans', Arial, Helvetica, sans-serif" font-size="70.5" letter-spacing="-1.2">5</text>
<text transform="translate(1549.7 3630.7) scale(0.94 1)" text-anchor="middle" font-family="'Liberation Sans', Arial, Helvetica, sans-serif" font-size="70.5" letter-spacing="-1.2">24</text>
<text transform="translate(1881.5 3630.7) scale(0.94 1)" text-anchor="middle" font-family="'Liberation Sans', Arial, Helvetica, sans-serif" font-size="70.5" letter-spacing="-1.2">168</text>
<text transform="translate(2268 3630.7) scale(0.94 1)" text-anchor="middle" font-family="'Liberation Sans', Arial, Helvetica, sans-serif" font-size="70.5" letter-spacing="-1.2">336</text>
<text transform="translate(139 3412.8) rotate(-90)" font-family="'Liberation Sans', Arial, Helvetica, sans-serif" font-weight="bold" font-size="80.4">Absorption capacity- PBS (%)</text>
<text x="1083" y="3760.4" font-family="'Liberation Sans', Arial, Helvetica, sans-serif" font-weight="bold" font-size="79.6">Time (hours)</text>
<text x="1136.2" y="3893" font-family="'Liberation Serif', 'Times New Roman', serif" font-size="84" letter-spacing="2">(<tspan font-weight="bold">b</tspan>)</text>
</svg>
</body>
</html>
